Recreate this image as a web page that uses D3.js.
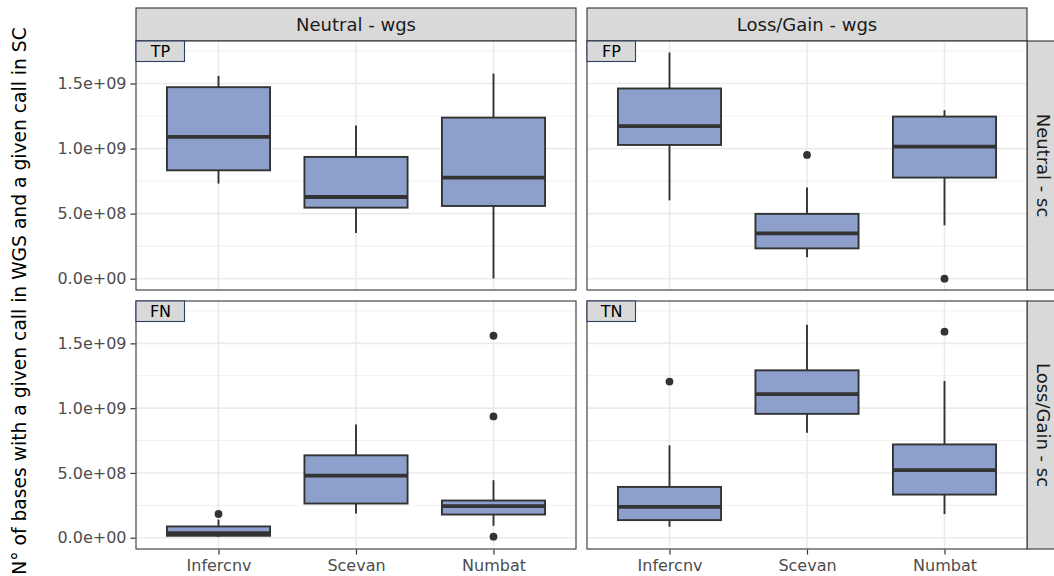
<!DOCTYPE html>
<html>
<head>
<meta charset="utf-8">
<script src="https://cdn.jsdelivr.net/npm/d3@7"></script>
<style>
  html, body { margin: 0; padding: 0; background: #ffffff; }
  svg { display: block; font-family: "DejaVu Sans", sans-serif; }
</style>
</head>
<body>
<svg id="chart" width="1054" height="576"></svg>
<script>
// Categories and facet labels
const methods = ["Infercnv", "Scevan", "Numbat"];
const colFacets = ["Neutral - wgs", "Loss/Gain - wgs"];
const rowFacets = ["Neutral - sc", "Loss/Gain - sc"];
const panelTags = ["TP", "FP", "FN", "TN"];

// Y axis ticks
const yTicks = [0, 5e8, 1e9, 1.5e9];
const yTickLabels = ["0.0e+00", "5.0e+08", "1.0e+09", "1.5e+09"];
const yMinorTicks = [2.5e8, 7.5e8, 1.25e9, 1.75e9];

// Box statistics per method: [lower whisker, Q1, median, Q3, upper whisker]
const statsTP = [
  [0.731e9, 0.833e9, 1.090e9, 1.472e9, 1.559e9],
  [0.351e9, 0.546e9, 0.628e9, 0.936e9, 1.177e9],
  [0.002e9, 0.559e9, 0.777e9, 1.238e9, 1.577e9]
];
const statsFP = [
  [0.602e9, 1.028e9, 1.172e9, 1.462e9, 1.738e9],
  [0.164e9, 0.233e9, 0.349e9, 0.498e9, 0.700e9],
  [0.410e9, 0.777e9, 1.015e9, 1.246e9, 1.295e9]
];
const statsFN = [
  [0.005e9, 0.015e9, 0.036e9, 0.087e9, 0.140e9],
  [0.187e9, 0.264e9, 0.479e9, 0.636e9, 0.874e9],
  [0.092e9, 0.179e9, 0.244e9, 0.287e9, 0.444e9]
];
const statsTN = [
  [0.085e9, 0.136e9, 0.238e9, 0.392e9, 0.713e9],
  [0.810e9, 0.956e9, 1.108e9, 1.292e9, 1.644e9],
  [0.182e9, 0.333e9, 0.521e9, 0.720e9, 1.210e9]
];

// Outlying points per method
const outliersTP = [[], [], []];
const outliersFP = [[], [0.951e9], [0.0]];
const outliersFN = [[0.183e9], [], [1.559e9, 0.936e9, 0.008e9]];
const outliersTN = [[1.205e9], [], [1.590e9]];

const panelStats = [statsTP, statsFP, statsFN, statsTN];
const panelOutliers = [outliersTP, outliersFP, outliersFN, outliersTN];

// Layout
const svg = d3.select("#chart");
const colX = [[136, 576], [587, 1027]];
const rowY = [[41, 290], [301, 549]];
const stripTop = 8;
const stripRight = 1060;

const boxFill = "#8DA0CB";
const ink = "#333333";
const gridCol = "#EBEBEB";
const axisText = "#4D4D4D";

// Shared y domain: data range expanded by 5% on each side
const dataLo = 0, dataHi = 1.74e9;
const pad = (dataHi - dataLo) * 0.05;
const yDomain = [dataLo - pad, dataHi + pad];

// Column strips
colFacets.forEach((lab, c) => {
  const [x0, x1] = colX[c];
  svg.append("rect").attr("x", x0).attr("y", stripTop)
    .attr("width", x1 - x0).attr("height", rowY[0][0] - stripTop)
    .attr("fill", "#D9D9D9").attr("stroke", ink).attr("stroke-width", 1.1);
  svg.append("text").attr("x", (x0 + x1) / 2).attr("y", (stripTop + rowY[0][0]) / 2)
    .attr("text-anchor", "middle").attr("dominant-baseline", "central")
    .attr("font-size", 18).attr("fill", "#1A1A1A").text(lab);
});

// Row strips
rowFacets.forEach((lab, r) => {
  const [y0, y1] = rowY[r];
  const x0 = colX[1][1];
  svg.append("rect").attr("x", x0).attr("y", y0)
    .attr("width", stripRight - x0).attr("height", y1 - y0)
    .attr("fill", "#D9D9D9").attr("stroke", ink).attr("stroke-width", 1.1);
  const cx = x0 + 16, cy = (y0 + y1) / 2;
  svg.append("text").attr("transform", `translate(${cx},${cy}) rotate(90)`)
    .attr("text-anchor", "middle").attr("dominant-baseline", "central")
    .attr("font-size", 18).attr("fill", "#1A1A1A").text(lab);
});

// Panels
for (let r = 0; r < 2; r++) {
  for (let c = 0; c < 2; c++) {
    const idx = r * 2 + c;
    const [x0, x1] = colX[c];
    const [y0, y1] = rowY[r];
    const x = d3.scalePoint().domain(methods).range([x0, x1]).padding(0.6);
    const y = d3.scaleLinear().domain(yDomain).range([y1, y0]);
    const step = x.step();
    const boxW = step * 0.75;
    const g = svg.append("g");

    g.append("rect").attr("x", x0).attr("y", y0).attr("width", x1 - x0).attr("height", y1 - y0)
      .attr("fill", "#ffffff");

    // Grid
    g.selectAll(".minor").data(yMinorTicks.filter(v => v > yDomain[0] && v < yDomain[1]))
      .join("line").attr("x1", x0).attr("x2", x1)
      .attr("y1", d => y(d)).attr("y2", d => y(d))
      .attr("stroke", gridCol).attr("stroke-width", 0.8);
    g.selectAll(".major").data(yTicks).join("line").attr("x1", x0).attr("x2", x1)
      .attr("y1", d => y(d)).attr("y2", d => y(d))
      .attr("stroke", gridCol).attr("stroke-width", 1.6);
    g.selectAll(".vmajor").data(methods).join("line")
      .attr("x1", d => x(d)).attr("x2", d => x(d)).attr("y1", y0).attr("y2", y1)
      .attr("stroke", gridCol).attr("stroke-width", 1.6);

    // Boxes
    const stats = panelStats[idx];
    const outs = panelOutliers[idx];
    methods.forEach((m, i) => {
      const [lo, q1, med, q3, hi] = stats[i];
      const cx = x(m);
      g.append("line").attr("x1", cx).attr("x2", cx).attr("y1", y(q3)).attr("y2", y(hi))
        .attr("stroke", ink).attr("stroke-width", 1.9);
      g.append("line").attr("x1", cx).attr("x2", cx).attr("y1", y(q1)).attr("y2", y(lo))
        .attr("stroke", ink).attr("stroke-width", 1.9);
      g.append("rect").attr("x", cx - boxW / 2).attr("y", y(q3))
        .attr("width", boxW).attr("height", y(q1) - y(q3))
        .attr("fill", boxFill).attr("stroke", ink).attr("stroke-width", 1.9);
      g.append("line").attr("x1", cx - boxW / 2).attr("x2", cx + boxW / 2)
        .attr("y1", y(med)).attr("y2", y(med))
        .attr("stroke", ink).attr("stroke-width", 3.8);
      g.selectAll(null).data(outs[i]).join("circle")
        .attr("cx", cx).attr("cy", d => y(d)).attr("r", 3.9).attr("fill", ink);
    });

    // Panel border
    g.append("rect").attr("x", x0).attr("y", y0).attr("width", x1 - x0).attr("height", y1 - y0)
      .attr("fill", "none").attr("stroke", ink).attr("stroke-width", 1.1);

    // Panel tag
    g.append("rect").attr("x", x0).attr("y", y0).attr("width", 48.5).attr("height", 20.5)
      .attr("fill", "#D9D9D9").attr("stroke", "#2F3F63").attr("stroke-width", 1.1);
    g.append("text").attr("x", x0 + 24.5).attr("y", y0 + 10.5)
      .attr("text-anchor", "middle").attr("dominant-baseline", "central")
      .attr("font-size", 16).attr("fill", "#000000").text(panelTags[idx]);

    // Y axis (left column)
    if (c === 0) {
      const ax = d3.axisLeft(y).tickValues(yTicks)
        .tickFormat((d, i) => yTickLabels[i]).tickSize(5).tickPadding(4);
      const axg = svg.append("g").attr("transform", `translate(${x0 - 0.5},0)`).call(ax);
      axg.select(".domain").remove();
      axg.selectAll(".tick line").attr("stroke", ink).attr("stroke-width", 1.2);
      axg.selectAll(".tick text").attr("fill", axisText).attr("font-size", 16)
        .attr("font-family", "DejaVu Sans, sans-serif");
    }
    // X axis (bottom row)
    if (r === 1) {
      const ax = d3.axisBottom(x).tickSize(5).tickPadding(5);
      const axg = svg.append("g").attr("transform", `translate(0,${y1 + 0.5})`).call(ax);
      axg.select(".domain").remove();
      axg.selectAll(".tick line").attr("stroke", ink).attr("stroke-width", 1.2);
      axg.selectAll(".tick text").attr("fill", axisText).attr("font-size", 16)
        .attr("font-family", "DejaVu Sans, sans-serif");
    }
  }
}

// Y axis title
svg.append("text")
  .attr("transform", `translate(25.5,301) rotate(-90)`)
  .attr("text-anchor", "middle")
  .attr("font-size", 18.7).attr("fill", "#000000")
  .text("N° of bases with a given call in WGS and a given call in SC");
</script>
</body>
</html>
